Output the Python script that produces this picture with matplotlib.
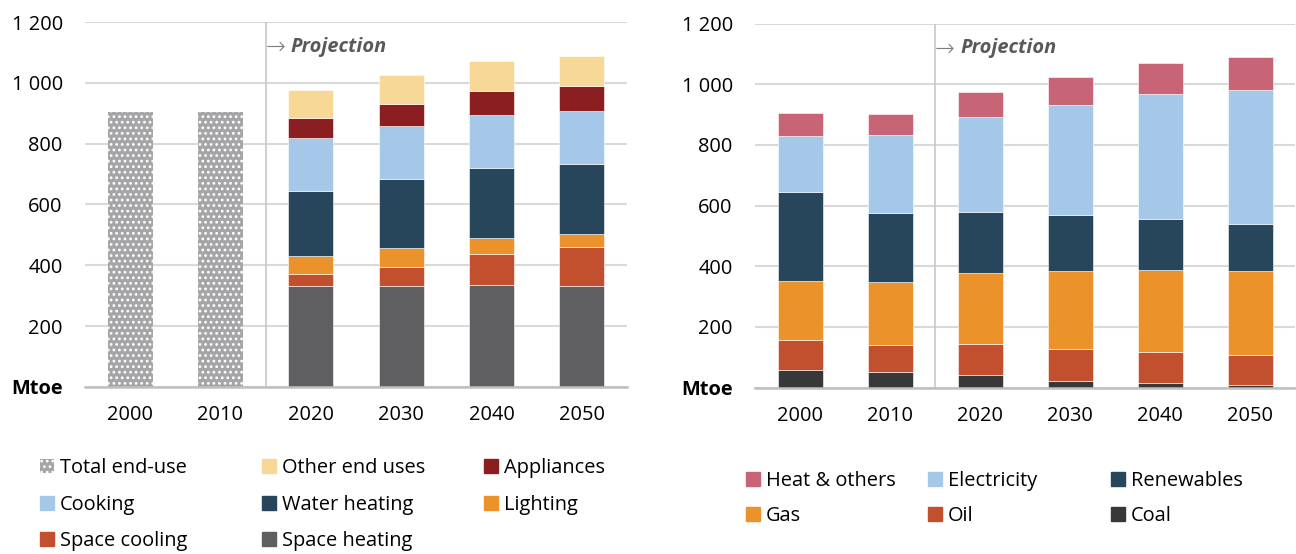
"""Residential energy demand by end use and by fuel, two stacked bar panels."""
import matplotlib.pyplot as plt
import numpy as np
from matplotlib.patches import Patch

plt.rcParams["font.family"] = ["Open Sans", "DejaVu Sans"]
plt.rcParams["hatch.linewidth"] = 1.2

years = ["2000", "2010", "2020", "2030", "2040", "2050"]
ytick_labels = ["Mtoe", "200", "400", "600", "800", "1 000", "1 200"]

# Left panel: end uses (Mtoe). History only as totals.
total_end_use = [905, 905, 0, 0, 0, 0]
space_heating = [0, 0, 331, 331, 334, 331]
space_cooling = [0, 0, 40, 65, 102, 128]
lighting = [0, 0, 59, 60, 54, 45]
water_heating = [0, 0, 215, 227, 230, 229]
cooking = [0, 0, 175, 176, 175, 175]
appliances = [0, 0, 65, 70, 77, 82]
other_end_uses = [0, 0, 90, 96, 100, 98]

# Right panel: fuels (Mtoe).
coal = [58, 52, 41, 22, 14, 9]
oil = [97, 89, 104, 106, 104, 99]
gas = [197, 208, 234, 255, 268, 277]
renewables = [293, 227, 200, 186, 169, 153]
electricity = [185, 257, 312, 362, 413, 443]
heat_others = [76, 70, 83, 93, 103, 107]

C_GREY = "#a5a5a7"
C_SH = "#5f5f61"
C_SC = "#c24f2e"
C_LIGHT = "#ec922b"
C_WATER = "#27455b"
C_COOK = "#a5c8e8"
C_APPL = "#8a1e21"
C_OTHER = "#f7d897"
C_HEAT = "#c76577"
C_COAL = "#383838"

FS = 14.4


def style_axis(ax):
    ax.set_xlim(-0.5, len(years) - 0.5)
    ax.set_ylim(0, 1200)
    ax.set_yticks(np.arange(0, 1201, 200))
    ax.set_yticklabels(ytick_labels, fontsize=FS)
    ax.get_yticklabels()[0].set_fontweight("bold")
    ax.set_xticks(range(len(years)))
    ax.set_xticklabels(years, fontsize=FS)
    ax.tick_params(axis="y", length=0, pad=16)
    ax.tick_params(axis="x", length=0, pad=13)
    for s in ["left", "right", "top"]:
        ax.spines[s].set_visible(False)
    ax.spines["bottom"].set_color("#bfbfbf")
    ax.spines["bottom"].set_linewidth(1.8)
    ax.yaxis.grid(True, color="#d9d9d9", linewidth=1.5)
    ax.set_axisbelow(True)
    ax.axvline(1.5, color="#c8c8c8", linewidth=1.2, zorder=1)
    ax.text(1.5, 1118, "\u2192", fontsize=17, color="#7f7f7f", va="center",
            ha="left", family="DejaVu Sans", fontweight="light")
    ax.text(1.78, 1118, "Projection", fontsize=FS, color="#595959", va="center",
            ha="left", fontweight="bold", fontstyle="italic")


def stack(ax, series):
    x = np.arange(len(years))
    bottom = np.zeros(len(years))
    for vals, color in series:
        ax.bar(x, vals, 0.5, bottom=bottom, color=color, edgecolor="white",
               linewidth=0.4, zorder=2)
        bottom += np.array(vals)


def legend_column(fig, handles, labels, x, y, spacing):
    leg = fig.legend(handles, labels, loc="upper left",
                     bbox_to_anchor=(x / 1296, 1 - y / 554), frameon=False,
                     fontsize=FS, handlelength=0.7, handleheight=0.7,
                     handletextpad=0.3, borderpad=0, borderaxespad=0,
                     labelspacing=spacing)
    return leg


fig = plt.figure(figsize=(12.96, 5.54), dpi=100)
ax1 = fig.add_axes([85 / 1296, (554 - 387) / 554, 542 / 1296, 365 / 554])
ax2 = fig.add_axes([755 / 1296, (554 - 387.5) / 554, 540 / 1296, 364 / 554])

x = np.arange(len(years))
ax1.bar(x, total_end_use, 0.5, color=C_GREY, edgecolor="white", linewidth=0,
        hatch="...", zorder=2)
stack(ax1, [(space_heating, C_SH), (space_cooling, C_SC), (lighting, C_LIGHT),
            (water_heating, C_WATER), (cooking, C_COOK), (appliances, C_APPL),
            (other_end_uses, C_OTHER)])
stack(ax2, [(coal, C_COAL), (oil, C_SC), (gas, C_LIGHT), (renewables, C_WATER),
            (electricity, C_COOK), (heat_others, C_HEAT)])
style_axis(ax1)
style_axis(ax2)

total_patch = Patch(facecolor=C_GREY, edgecolor="white", linewidth=0,
                    hatch="...")
left_cols = [
    (40, [total_patch, Patch(color=C_COOK), Patch(color=C_SC)],
     ["Total end-use", "Cooking", "Space cooling"]),
    (262, [Patch(color=C_OTHER), Patch(color=C_WATER), Patch(color=C_SH)],
     ["Other end uses", "Water heating", "Space heating"]),
    (484, [Patch(color=C_APPL), Patch(color=C_LIGHT)],
     ["Appliances", "Lighting"]),
]
for xpos, h, lab in left_cols:
    legend_column(fig, h, lab, xpos, 458, 0.83)

right_cols = [
    (746, [Patch(color=C_HEAT), Patch(color=C_LIGHT)], ["Heat & others", "Gas"]),
    (928, [Patch(color=C_COOK), Patch(color=C_SC)], ["Electricity", "Oil"]),
    (1111, [Patch(color=C_WATER), Patch(color=C_COAL)], ["Renewables", "Coal"]),
]
for xpos, h, lab in right_cols:
    legend_column(fig, h, lab, xpos, 471, 0.73)

fig.savefig("out.png", dpi=100)
